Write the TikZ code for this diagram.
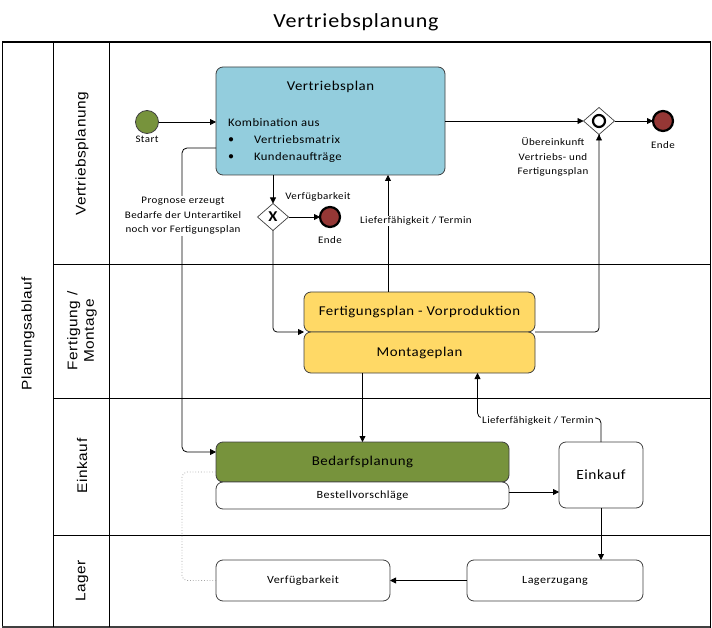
\documentclass[tikz,border=0pt]{standalone}
\usepackage{fontspec}
\setmainfont[FakeStretch=1.1,LetterSpace=4]{Carlito}
\newfontfamily\lanefont[FakeStretch=1.1,LetterSpace=4]{Liberation Sans}
\usetikzlibrary{shapes.geometric,arrows.meta,calc}
\definecolor{vpblue}{HTML}{93CDDD}
\definecolor{olive}{HTML}{77933C}
\definecolor{yell}{HTML}{FFD966}
\definecolor{endred}{HTML}{953735}
\definecolor{bord}{HTML}{404040}
\tikzset{
  every node/.style={inner sep=0pt, outer sep=0pt},
  arr/.style={draw=black, line width=0.8pt, -{Triangle[length=6pt,width=6pt]}},
  conn/.style={draw=black, line width=0.8pt},
  proc/.style={draw=bord, line width=0.8pt, rounded corners=7pt, align=center},
  lane/.style={rotate=90, font=\lanefont\fontsize{14}{16.5}\selectfont, align=center},
  lbl/.style={font=\fontsize{10}{14.5}\selectfont, align=center},
  lblbg/.style={lbl, fill=white, inner sep=1pt},
  endev/.style={circle, draw=black, line width=2.2pt, fill=endred, minimum size=20pt},
  gw/.style={diamond, draw=bord, line width=0.7pt, fill=white, minimum width=31pt, minimum height=27pt},
  frame/.style={draw=black, line width=1pt}
}
\begin{document}
\begin{tikzpicture}[x=1pt,y=-1pt]
\useasboundingbox (0,0) rectangle (712,628);
% title
\node[font=\fontsize{20}{24}\selectfont] (title) at (356,22) {Vertriebsplanung};
% pool frame
\draw[frame] (2,42) rectangle (710,627);
\draw[draw=black, line width=2pt] (2,42) -- (710,42);
\draw[draw=bord, line width=2.6pt] (2,627) -- (710,627);
\draw[frame] (53,42) -- (53,627);
\draw[frame] (109,42) -- (109,627);
\draw[frame] (53,265) -- (710,265);
\draw[frame] (53,398) -- (710,398);
\draw[frame] (53,535) -- (710,535);
% lane labels
\node[lane] (pool) at (28,334) {Planungsablauf};
\node[lane] (l1) at (82,154) {Vertriebsplanung};
\node[lane] (l2) at (82,331) {Fertigung /\\Montage};
\node[lane] (l3) at (82,466) {Einkauf};
\node[lane] (l4) at (82,581) {Lager};

% Vertriebsplan
\node[proc, fill=vpblue, minimum width=229pt, minimum height=108pt] (vp) at (330.5,121) {};
\node[font=\fontsize{13.5}{16}\selectfont] (vpt) at (330.5,87) {Vertriebsplan};
\node[font=\fontsize{11.5}{14}\selectfont, anchor=west] (vpk) at (228,123) {Kombination aus};
\node[font=\fontsize{11}{14}\selectfont] (b1) at (231,140) {$\bullet$};
\node[font=\fontsize{11}{14}\selectfont] (b2) at (231,157) {$\bullet$};
\node[font=\fontsize{11.5}{14}\selectfont, anchor=west] (vpm) at (254,140) {Vertriebsmatrix};
\node[font=\fontsize{11.5}{14}\selectfont, anchor=west] (vpa) at (254,157) {Kundenaufträge};

% start
\node[circle, draw=bord, line width=0.8pt, fill=olive, minimum size=23pt] (start) at (147,122) {};
\node[lbl, anchor=north] (startl) at (147,136) {Start};

% gateway X
\node[gw] (gx) at (273,217) {};
\node[font=\bfseries\fontsize{15}{15}\selectfont] (gxx) at (273,217) {X};
\node[endev] (end1) at (330,217) {};
\node[lbl] (end1l) at (330,240) {Ende};
\node[lbl] (verf1) at (318,197) {Verfügbarkeit};

% gateway O
\node[gw] (go) at (599,121) {};
\node[circle, draw=black, line width=2.2pt, minimum size=12pt] (goo) at (599,121) {};
\node[endev] (end2) at (663,121) {};
\node[lbl] (end2l) at (663,145) {Ende};
\node[lbl] (uebl) at (553,157) {Übereinkunft\\Vertriebs- und\\Fertigungsplan};

% Fertigung / Montage
\node[proc, fill=yell, minimum width=231pt, minimum height=40pt, font=\fontsize{13.5}{16}\selectfont] (fp) at (419.5,312) {Fertigungsplan - Vorproduktion};
\node[proc, fill=yell, minimum width=231pt, minimum height=41pt, font=\fontsize{13.5}{16}\selectfont] (mp) at (419.5,352.5) {Montageplan};

% Einkauf
\node[proc, fill=olive, minimum width=293pt, minimum height=40pt, font=\fontsize{13.5}{16}\selectfont] (bp) at (362.5,462) {Bedarfsplanung};
\node[proc, fill=white, minimum width=293pt, minimum height=27pt, font=\fontsize{11}{14}\selectfont] (bv) at (362.5,495.5) {Bestellvorschläge};
\node[proc, fill=white, minimum width=84pt, minimum height=66pt, font=\fontsize{14}{16}\selectfont] (ek) at (601,475) {Einkauf};

% Lager
\node[proc, fill=white, minimum width=176pt, minimum height=41pt, font=\fontsize{11}{14}\selectfont] (lz) at (555,580.5) {Lagerzugang};
\node[proc, fill=white, minimum width=174pt, minimum height=41pt, font=\fontsize{11}{14}\selectfont] (vf) at (303,580.5) {Verfügbarkeit};

% connectors
\draw[arr] (start.east) -- (start -| vp.west);
\draw[arr] (vp.east |- go) -- (go.west);
\draw[arr] (go.east) -- (end2.west);
\draw[arr] (gx |- vp.south) -- (gx.north);
\draw[arr] (gx.east) -- (end1.west);
\draw[arr, rounded corners=4pt] (gx.south) |- (mp.north west);
\draw[conn, rounded corners=4pt] (mp.north east) -| (go.south);
\draw[arr] (go.south) ++(0,1) -- (go.south);
\draw[arr] ([xshift=-31.5pt]fp.north) -- ([xshift=-31.5pt]fp.north |- vp.south);
\node[lblbg] (lf1) at (416,221) {Lieferfähigkeit / Termin};
\draw[arr, rounded corners=5pt] ([yshift=-27pt]vp.west) -- ++(-34,0) |- ([yshift=10pt]bp.west);
\node[lblbg] (prog) at (183,216) {Prognose erzeugt\\Bedarfe der Unterartikel\\noch vor Fertigungsplan};
\draw[arr] (bp.north |- mp.south) -- (bp.north);
\draw[arr] (bv.east |- 0,492) -- (ek.west |- 0,492);
\draw[arr, rounded corners=5pt] (ek.north) -- ++(0,-24) -| ([xshift=58pt]mp.south);
\node[lblbg] (lf2) at (538,421) {Lieferfähigkeit / Termin};
\draw[arr] (ek.south) -- (ek.south |- lz.north);
\draw[arr] (lz.west) -- (vf.east);
\draw[draw=gray!70, line width=0.8pt, dotted, rounded corners=5pt] (vf.west) -- ++(-34,0) |- ([yshift=-10pt]bp.west);
\end{tikzpicture}
\end{document}
